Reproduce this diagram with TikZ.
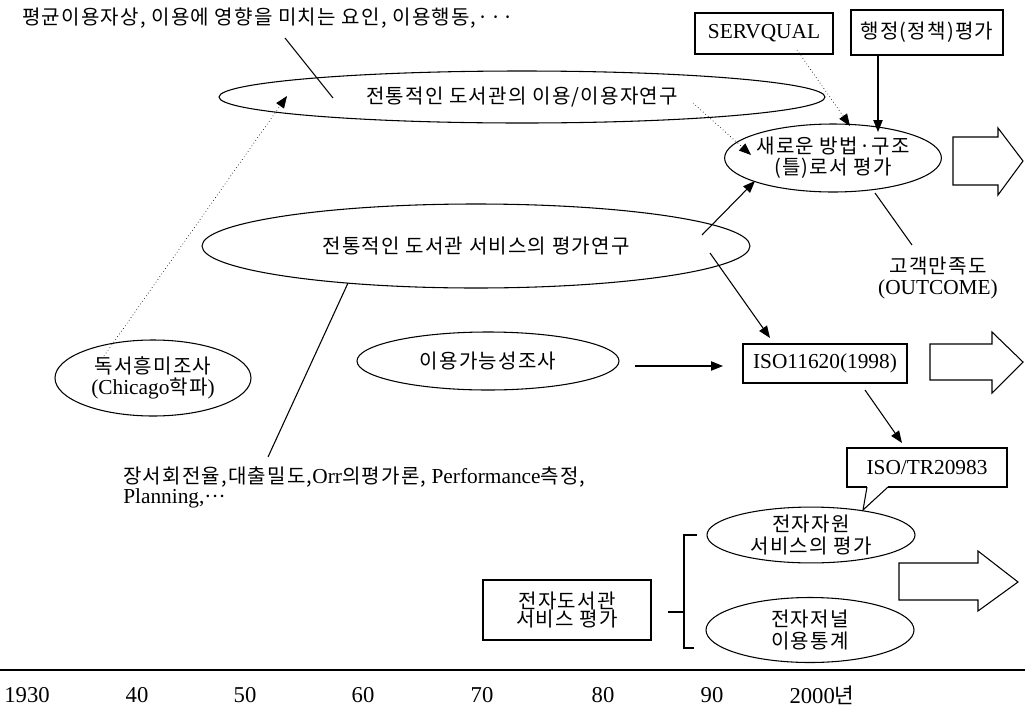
\documentclass[tikz,border=0pt]{standalone}
\usepackage{fontspec}
\setmainfont{Liberation Serif}
\newfontfamily\kr{Noto Sans CJK KR}[Scale=0.94,LetterSpace=6]
\usetikzlibrary{arrows.meta,shapes.geometric,calc}
\newcommand\K[1]{{\kr #1}}
\tikzset{
  base/.style={inner sep=0pt, align=center, font=\fontsize{16}{16}\selectfont},
  ell/.style 2 args={base, ellipse, draw, line width=0.8pt, minimum width=#1*0.75pt, minimum height=#2*0.75pt},
  boxn/.style 2 args={base, rectangle, draw, line width=0.8pt, minimum width=#1*0.75pt, minimum height=#2*0.75pt},
  conn/.style={line width=0.8pt},
  arr/.style={conn, -{Triangle[length=9pt,width=7pt]}},
  dotarr/.style={line width=0.5pt, dotted, -{Triangle[length=9pt,width=7pt]}},
  hollow/.style={line width=0.8pt, fill=white},
  yr/.style={base, font=\fontsize{17}{17}\selectfont}
}
\begin{document}
\begin{tikzpicture}[x=0.75pt,y=-0.75pt]
\useasboundingbox[fill=white] (0,0) rectangle (1025,711);

% texts and nodes
\node[base, anchor=west] (top) at (22,18) {\K{평균이용자상, 이용에 영향을 미치는 요인, 이용행동,···}};
\node[ell={606}{52}] (e1) at (522,97) {\K{전통적인 도서관의 이용/이용자연구}};
\node[boxn={138}{41}] (sq) at (764,33.5) {SERVQUAL};
\node[boxn={152}{45}] (adm) at (927,32.5) {\K{행정(정책)평가}};
\node[ell={208}{68}] (new) at (833,158) {\K{새로운 방법·구조}\\\K{(틀)로서 평가}};
\node[ell={548}{84}] (e2) at (476,246) {\K{전통적인 도서관 서비스의 평가연구}};
\node[base] (cs) at (938,278) {\K{고객만족도}\\(OUTCOME)};
\node[ell={196}{76}] (chi) at (153,378) {\K{독서흥미조사}\\(Chicago\K{학파})};
\node[ell={262}{58}] (avail) at (488,361) {\K{이용가능성조사}};
\node[boxn={164}{39}] (iso) at (825,363.5) {ISO11620(1998)};
\node[boxn={160}{39}] (tr) at (927,467.5) {ISO/TR20983};
\node[base, anchor=north west, align=left, font=\fontsize{16}{12.5}\selectfont] (perf) at (123,467) {\K{장서회전율,대출밀도,}Orr\K{의평가론,} Performance\K{측정,}\\Planning,···};
\node[ell={208}{55}] (res) at (811,535) {\K{전자자원}\\\K{서비스의 평가}};
\node[ell={208}{65}] (jnl) at (810,630) {\K{전자저널}\\\K{이용통계}};
\node[boxn={168}{60}] (dl) at (567,610) {\K{전자도서관}\\[-2pt]\K{서비스 평가}};

% years
\node[yr] (y1) at (27,695) {1930};
\node[yr] (y2) at (137,695) {40};
\node[yr] (y3) at (245,695) {50};
\node[yr] (y4) at (363,695) {60};
\node[yr] (y5) at (482,695) {70};
\node[yr] (y6) at (603,695) {80};
\node[yr] (y7) at (712,695) {90};
\node[yr] (y8) at (822,695) {2000\K{년}};

% connector end points
\coordinate (t1) at (285,38);
\coordinate (t2) at (333,98);
\coordinate (c1) at (104,356);
\coordinate (c2) at (287,96);
\coordinate (d1) at (693,103);
\coordinate (d2) at (751,155);
\coordinate (s1) at (797,50);
\coordinate (s2) at (850,126);
\coordinate (a1) at (878,55);
\coordinate (a2) at (878,132);
\coordinate (p1) at (702,235);
\coordinate (p2) at (755,181);
\coordinate (o1) at (875,193);
\coordinate (o2) at (912,245);
\coordinate (q1) at (348,283);
\coordinate (q2) at (268,457);
\coordinate (i1) at (710,253);
\coordinate (i2) at (770,338);
\coordinate (v1) at (635,366);
\coordinate (v2) at (723,366);
\coordinate (r1) at (865,390);
\coordinate (r2) at (902,443);

\draw[conn] (t1) -- (t2);
\draw[dotarr] (c1) -- (c2);
\draw[dotarr] (d1) -- (d2);
\draw[dotarr] (s1) -- (s2);
\draw[arr] (a1) -- (a2);
\draw[arr] (p1) -- (p2);
\draw[conn] (o1) -- (o2);
\draw[conn] (q1) -- (q2);
\draw[arr] (i1) -- (i2);
\draw[arr] (v1) -- (v2);
\draw[arr] (r1) -- (r2);

% callout tail of ISO/TR box
\coordinate (tb1) at (867,487);
\coordinate (tb2) at (888,487);
\coordinate (tip) at (863,510);
\draw[white, line width=1.4pt] (tb1) -- (tb2);
\draw[conn] (tb1) -- (tip) -- (tb2);

% bracket
\coordinate (bk1) at (697,535);
\coordinate (bk2) at (684,535);
\coordinate (bk3) at (684,648);
\coordinate (bk4) at (694,648);
\coordinate (bm) at (684,612);
\draw[conn] (bk1) -- (bk2) -- (bk3) -- (bk4);
\draw[conn] (dl.east) ++(16,2) -- (bm);

% hollow block arrows
\draw[hollow] (953,137) -- (998,137) -- (998,128) -- (1023,161) -- (998,195) -- (998,185) -- (953,185) -- cycle;
\draw[hollow] (930,344) -- (992,344) -- (992,332) -- (1023,362) -- (992,393) -- (992,380) -- (930,380) -- cycle;
\draw[hollow] (899,563) -- (978,563) -- (978,551) -- (1018,582) -- (978,611) -- (978,600) -- (899,600) -- cycle;

% timeline
\coordinate (tl1) at (0,670);
\coordinate (tl2) at (1025,670);
\draw[line width=1.2pt] (tl1) -- (tl2);
\end{tikzpicture}
\end{document}
